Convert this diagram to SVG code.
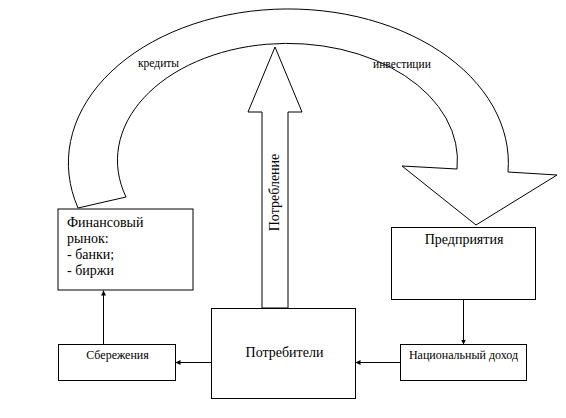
<svg xmlns="http://www.w3.org/2000/svg" width="566" height="418" viewBox="0 0 566 418" font-family="Liberation Serif, Times New Roman, serif">
<style>
.box{fill:#fff;stroke:#000;stroke-width:1}
.shape{fill:#fff;stroke:#000;stroke-width:1}
.c{stroke:#000;stroke-width:1;fill:none;marker-end:url(#ah)}
</style>
<defs>
<marker id="ah" viewBox="0 0 10 10" refX="10" refY="5" markerWidth="5" markerHeight="5" markerUnits="userSpaceOnUse" orient="auto">
<path d="M0,0 L10,5 L0,10 Z" fill="#000"/>
</marker>
</defs>
<rect width="566" height="418" fill="#fff"/>
<g id="curved-arrow">
<path class="shape" d="M78,208 A220 154 0 1 1 508,172 L557,175 L476,225 L402,166 L457,169 A170 117 0 1 0 126,197 Z"/>
<text font-family="Liberation Serif, serif" font-size="11.5" x="138" y="67">кредиты</text>
<text font-family="Liberation Serif, serif" font-size="11.5" x="373" y="68">инвестиции</text>
</g>
<g id="up-arrow">
<path class="shape" d="M275,47 L302,112 L288,112 L288,308 L262,308 L262,112 L248,112 Z"/>
<text font-family="Liberation Serif, serif" font-size="14" transform="translate(279,192.5) rotate(-90)" text-anchor="middle">Потребление</text>
</g>
<g id="finance" font-family="Liberation Serif, serif" font-size="14">
<rect class="box" x="58" y="209" width="135" height="81"/>
<text x="67" y="227">Финансовый</text>
<text x="67" y="243">рынок:</text>
<text x="67" y="259">- банки;</text>
<text x="67" y="275">- биржи</text>
</g>
<g id="enterprises" font-family="Liberation Serif, serif" font-size="14">
<rect class="box" x="391.5" y="227.5" width="144" height="72"/>
<text x="464" y="244" text-anchor="middle">Предприятия</text>
</g>
<g id="savings" font-family="Liberation Serif, serif" font-size="12">
<rect class="box" x="58.5" y="344.5" width="117" height="36"/>
<text x="117.5" y="359" text-anchor="middle">Сбережения</text>
</g>
<g id="consumers" font-family="Liberation Serif, serif" font-size="14">
<rect class="box" x="211.5" y="308.5" width="144" height="90"/>
<text x="284.5" y="357" text-anchor="middle">Потребители</text>
</g>
<g id="income" font-family="Liberation Serif, serif" font-size="12">
<rect class="box" x="400.5" y="344.5" width="126" height="36"/>
<text x="463.5" y="359" text-anchor="middle">Национальный доход</text>
</g>
<g id="connectors">
<line class="c" x1="103.5" y1="344.5" x2="103.5" y2="290.5"/>
<line class="c" x1="211.5" y1="362.5" x2="175.5" y2="362.5"/>
<line class="c" x1="400.5" y1="362.5" x2="355.5" y2="362.5"/>
<line class="c" x1="463.5" y1="299.5" x2="463.5" y2="344.5"/>
</g>
</svg>
